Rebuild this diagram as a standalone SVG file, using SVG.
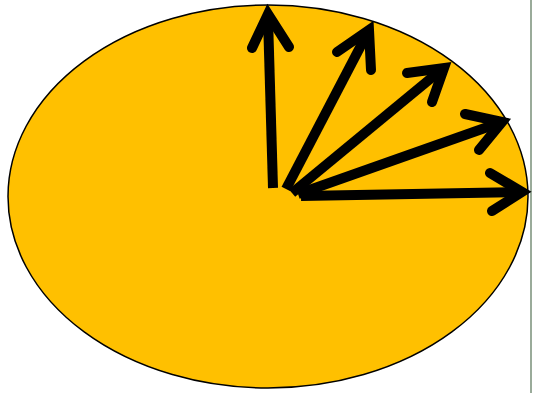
<svg xmlns="http://www.w3.org/2000/svg" width="533" height="393" viewBox="0 0 533 393">
<style>
.sh{stroke:#000;stroke-width:10;fill:none;stroke-linecap:butt}
.hd{stroke:#000;stroke-width:10;fill:none;stroke-linecap:round;stroke-linejoin:miter;stroke-miterlimit:10}
</style>
<rect width="533" height="393" fill="#fff"/>
<line x1="531" y1="0" x2="531" y2="393" stroke="#9aab9a" stroke-width="2"/>
<g id="ellipse"><ellipse cx="268" cy="196.5" rx="260" ry="191.5" fill="#FFC000" stroke="#000" stroke-width="1.5"/></g>
<g id="connectors">
<g id="a1"><line class="sh" x1="273" y1="188" x2="268" y2="18"/><polyline class="hd" points="252,48 268,14 289,47"/></g>
<g id="a2"><line class="sh" x1="286" y1="189" x2="367" y2="34"/><polyline class="hd" points="337,52 369,30 371,70"/></g>
<g id="a3"><line class="sh" x1="292" y1="193" x2="441" y2="70"/><polyline class="hd" points="407,73 444,68 432,102"/></g>
<g id="a4"><line class="sh" x1="298" y1="194" x2="499" y2="123"/><polyline class="hd" points="465,114 502,122 479,150"/></g>
<g id="a5"><line class="sh" x1="301" y1="196" x2="519" y2="192"/><polyline class="hd" points="490,173 522,192 492,211"/></g>
</g>
</svg>
